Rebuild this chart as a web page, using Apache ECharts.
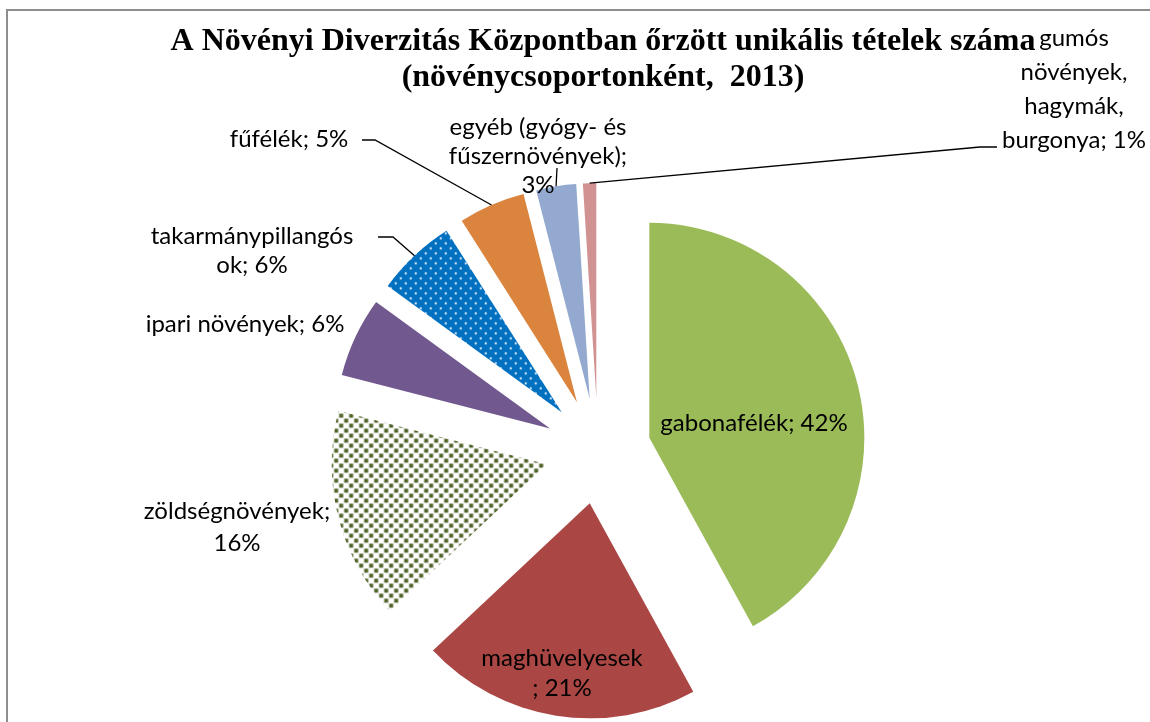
<!DOCTYPE html>
<html>
<head>
<meta charset="utf-8">
<title>Növényi Diverzitás Központ</title>
<script src="https://cdn.jsdelivr.net/npm/echarts@6/dist/echarts.min.js"></script>
<style>
    html, body { margin: 0; padding: 0; background: #fff; }
    #chartPie { width: 1150px; height: 722px; }
</style>
</head>
<body>
<div id="chartPie"></div>
<script>
    // data (share of items in %)
    var categories = ['gabonafélék', 'maghüvelyesek', 'zöldségnövények', 'ipari növények',
        'takarmánypillangósok', 'fűfélék', 'egyéb (gyógy- és fűszernövények)', 'gumós növények, hagymák, burgonya'];
    var shares = [42, 21, 16, 6, 6, 5, 3, 1];
    // label text as it is wrapped in the original
    var labelHeads = ['gabonafélék; ', 'maghüvelyesek\n; ', 'zöldségnövények;\n', 'ipari növények; ',
        'takarmánypillangós\nok; ', 'fűfélék; ', 'egyéb (gyógy- és\nfűszernövények);\n', 'gumós\nnövények,\nhagymák,\nburgonya; '];
    var titleText = 'A Növényi Diverzitás Központban őrzött unikális tételek száma\n(növénycsoportonként,  2013)';

    var colors = ['#9BBB59', '#AA4643', 'zold', '#71588F', 'takarmany', '#DB843D', '#93A9CF', '#D19392'];
    // where Excel put each label (centre of the text block)
    var labelPos = [[754, 423], [562, 673], [237, 527], [245, 324], [252, 251], [289, 139], [538, 156], [1074, 89]];
    var labelLineHeight = [30, 30, 32, 30, 29, 30, 29, 34];
    // label end of the leader lines (null = no leader)
    var leaderEnd = [null, null, null, null,
        [[393, 237], [378, 237]],
        [[375, 140], [362, 140]],
        [[557, 168], [557, 168]],
        [[980, 147], [997, 147]]];

    var pieCenter = [598, 451];
    var pieRadius = 215;
    var explode = 53;

    function dotPattern() {
        var c = document.createElement('canvas');
        c.width = 10; c.height = 10;
        var ctx = c.getContext('2d');
        ctx.fillStyle = '#0070C0';
        ctx.fillRect(0, 0, 10, 10);
        ctx.fillStyle = '#cfe4f6';
        ctx.beginPath(); ctx.arc(2, 2, 1.2, 0, Math.PI * 2); ctx.fill();
        ctx.beginPath(); ctx.arc(7, 7, 1.2, 0, Math.PI * 2); ctx.fill();
        return { image: c, repeat: 'repeat' };
    }
    function checkPattern() {
        var c = document.createElement('canvas');
        c.width = 10; c.height = 10;
        var ctx = c.getContext('2d');
        ctx.fillStyle = '#ffffff';
        ctx.fillRect(0, 0, 10, 10);
        ctx.fillStyle = '#4F6228';
        ctx.fillRect(0.5, 0.5, 4, 4);
        ctx.fillRect(5.5, 5.5, 4, 4);
        return { image: c, repeat: 'repeat' };
    }

    var pieData = [];
    var labelData = [];
    for (var i = 0; i < categories.length; i++) {
        var col = colors[i];
        if (col === 'zold') col = checkPattern();
        if (col === 'takarmany') col = dotPattern();
        pieData.push({
            name: categories[i],
            value: shares[i],
            selected: true,
            itemStyle: { color: col },
            select: { itemStyle: { color: col, borderWidth: 0 } }
        });
        labelData.push({
            name: categories[i],
            value: shares[i],
            label: { lineHeight: labelLineHeight[i] },
            labelLine: { show: leaderEnd[i] != null }
        });
    }

    var chartPie = echarts.init(document.getElementById('chartPie'));
    chartPie.setOption({
        animation: false,
        backgroundColor: '#ffffff',
        title: {
            text: titleText,
            left: 598,
            top: 19,
            textAlign: 'center',
            textStyle: {
                fontFamily: 'Liberation Serif',
                fontWeight: 'bold',
                fontSize: 32,
                lineHeight: 36,
                color: '#000'
            }
        },
        graphic: [{
            type: 'rect',
            silent: true,
            shape: { x: 7, y: 10, width: 1300, height: 900 },
            style: { fill: 'none', stroke: '#8e8e8e', lineWidth: 2 }
        }],
        series: [{
            // the exploded slices
            type: 'pie',
            z: 2,
            center: pieCenter,
            radius: pieRadius,
            startAngle: 90,
            clockwise: true,
            selectedMode: 'multiple',
            selectedOffset: explode,
            silent: true,
            label: { show: false },
            labelLine: { show: false },
            data: pieData
        }, {
            // invisible pie reaching the outer edge of the exploded slices, carries the labels
            type: 'pie',
            z: 5,
            center: pieCenter,
            radius: pieRadius + explode,
            startAngle: 90,
            clockwise: true,
            silent: true,
            avoidLabelOverlap: false,
            itemStyle: { color: 'rgba(0,0,0,0)' },
            label: {
                show: true,
                position: 'outside',
                color: '#000',
                fontFamily: 'Lato',
                fontSize: 24,
                lineHeight: 30,
                formatter: function (p) {
                    return labelHeads[p.dataIndex] + p.percent + '%';
                }
            },
            labelLine: {
                length: 0,
                length2: 0,
                lineStyle: { color: '#000', width: 1.3 }
            },
            labelLayout: function (p) {
                var c = labelPos[p.dataIndex];
                var out = { x: c[0], y: c[1], align: 'center', verticalAlign: 'middle' };
                var ends = leaderEnd[p.dataIndex];
                if (ends && p.labelLinePoints) {
                    out.labelLinePoints = [p.labelLinePoints[0], ends[0], ends[1]];
                }
                return out;
            },
            data: labelData
        }]
    });
</script>
</body>
</html>
